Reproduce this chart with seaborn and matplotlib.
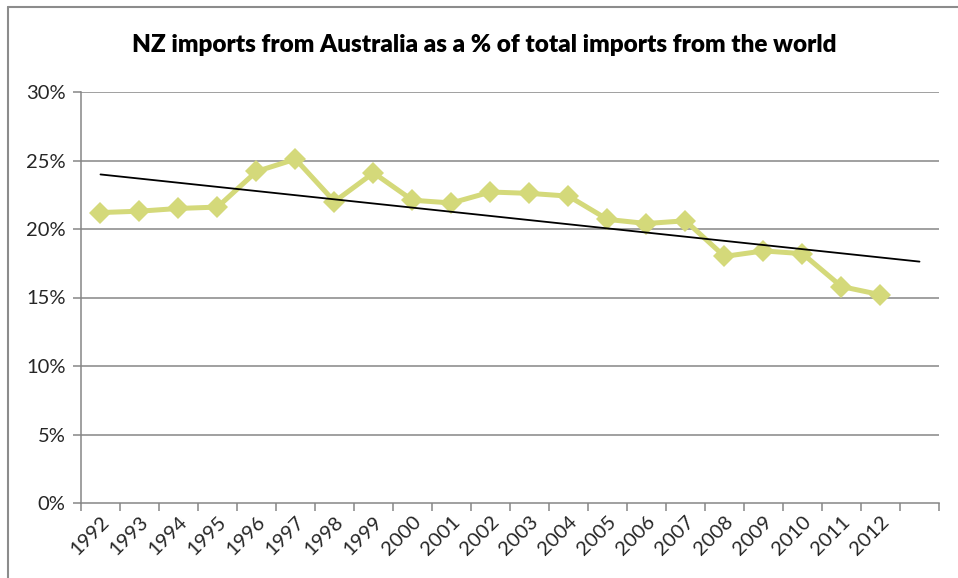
import numpy as np
import pandas as pd
import matplotlib
matplotlib.use("Agg")
import matplotlib.pyplot as plt
import seaborn as sns
from matplotlib.ticker import FixedLocator, FuncFormatter

years = list(range(1992, 2013))
share = [21.2, 21.3, 21.5, 21.6, 24.2, 25.1, 22.0, 24.1, 22.1, 21.9, 22.7,
         22.6, 22.4, 20.7, 20.4, 20.6, 18.0, 18.4, 18.2, 15.8, 15.2]
yticks = [0, 5, 10, 15, 20, 25, 30]
title = "NZ imports from Australia as a % of total imports from the world"

df = pd.DataFrame({"year": years, "share": share})

sns.set_theme(style="white")
plt.rcParams["font.family"] = ["Lato", "DejaVu Sans"]

fig = plt.figure(figsize=(9.58, 5.78), dpi=100)
ax = fig.add_axes([81/958, 1-503/578, (939-81)/958, (503-92)/578])

grid_c = "#868686"
for v in yticks[1:]:
    ax.axhline(v, color=grid_c, lw=1.1, zorder=0)

# linear trendline, forecast forward one period
coef = np.polyfit(df["year"], df["share"], 1)
tx = np.array([years[0], years[-1] + 1])
trend = pd.DataFrame({"year": tx, "share": np.polyval(coef, tx)})
sns.lineplot(data=trend, x="year", y="share", ax=ax, color="black", lw=1.3, zorder=3)

sns.lineplot(data=df, x="year", y="share", ax=ax, color="#D4D97A", lw=3.6,
             marker="D", markersize=11, markeredgewidth=0, zorder=2)

ax.set_xlim(years[0] - 0.5, years[-1] + 1.5)
ax.set_ylim(0, 30)
ax.set_xlabel("")
ax.set_ylabel("")

ax.set_yticks(yticks)
ax.yaxis.set_major_formatter(FuncFormatter(lambda v, p: f"{int(v)}%"))
ax.tick_params(axis="y", length=6, width=1.1, color=grid_c, labelsize=14.5, pad=5,
               left=True)

bounds = [y - 0.5 for y in years] + [years[-1] + 0.5, years[-1] + 1.5]
ax.xaxis.set_major_locator(FixedLocator(bounds))
ax.xaxis.set_major_formatter(FuncFormatter(lambda v, p: ""))
ax.xaxis.set_minor_locator(FixedLocator(years))
ax.set_xticklabels([str(y) for y in years], minor=True)
ax.tick_params(axis="x", which="major", length=6, width=1.1, color=grid_c, bottom=True)
ax.tick_params(axis="x", which="minor", length=0, labelsize=14.5, pad=7)
for lab in ax.get_xticklabels(minor=True):
    lab.set_rotation(45)
    lab.set_ha("right")
    lab.set_va("top")
    lab.set_rotation_mode("anchor")

for s in ["top", "right"]:
    ax.spines[s].set_visible(False)
for s in ["left", "bottom"]:
    ax.spines[s].set_color(grid_c)
    ax.spines[s].set_linewidth(1.1)

fig.text(0.506, 1-45/578, title, ha="center", va="center", fontsize=17.5,
         fontweight="heavy", color="black")

# chart border
fig.add_artist(plt.Line2D([8/958, 1.0], [1-7/578, 1-7/578], color="#8c8c8c", lw=1.5,
                          transform=fig.transFigure))
fig.add_artist(plt.Line2D([8/958, 8/958], [0, 1-7/578], color="#8c8c8c", lw=1.5,
                          transform=fig.transFigure))

fig.savefig("out.png", dpi=100)
